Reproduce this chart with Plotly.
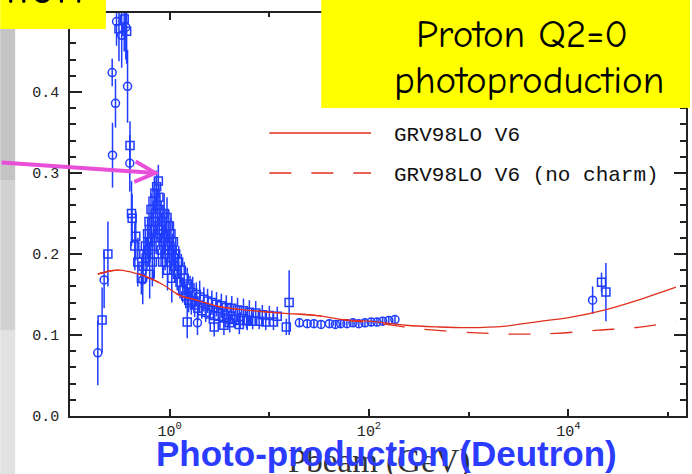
import plotly.graph_objects as go

# photon beam momentum (GeV) and cross section values
circ_p = [0.19, 0.22, 0.265, 0.267, 0.286, 0.293, 0.363, 0.378, 0.398, 0.537, 0.33,
          1.9, 20, 24, 28, 33, 40, 46, 52, 60, 69, 79, 91, 105, 120, 137, 158, 182,
          17500]
circ_v = [0.078, 0.168, 0.424, 0.322, 0.386, 0.487, 0.48, 0.407, 0.312, 0.168, 0.47,
          0.115, 0.115, 0.114, 0.114, 0.113, 0.114, 0.113, 0.114, 0.114, 0.115, 0.114,
          0.115, 0.116, 0.116, 0.117, 0.118, 0.119,
          0.143]
circ_e = [0.04, 0.035, 0.017, 0.04, 0.03, 0.03, 0.04, 0.045, 0.035, 0.03, 0.04,
          0.015, 0.005, 0.005, 0.005, 0.005, 0.005, 0.005, 0.005, 0.005, 0.005, 0.005,
          0.005, 0.005, 0.005, 0.005, 0.005, 0.005,
          0.017]

sq_p = [0.21, 0.24, 0.37, 0.40, 0.414, 0.42, 0.447, 0.457, 0.479, 0.35, 0.31,
        0.52, 0.54, 0.55, 0.57, 0.58, 0.60, 0.61, 0.62, 0.64, 0.65, 0.66, 0.68, 0.69,
        0.71, 0.72, 0.74, 0.75, 0.77, 0.78, 0.79, 0.80, 0.82, 0.84, 0.86, 0.88, 0.90,
        0.92, 0.94, 0.96, 0.98, 1.00, 1.03, 1.06, 1.09, 1.12, 1.15, 1.19, 1.23, 1.27,
        1.31, 0.63, 0.67, 0.70, 0.85, 0.95, 1.05, 0.73, 0.76, 0.83, 0.89, 1.0, 1.1,
        1.35, 1.4, 1.45, 1.5, 1.55, 1.6, 1.65, 1.7, 1.78, 1.85, 1.92, 2.0, 2.1, 2.2,
        2.3, 2.4, 2.5, 2.65, 2.8, 2.95, 3.1, 3.3, 3.5, 3.7, 3.9, 4.2, 4.5, 4.8, 5.1,
        5.5, 5.9, 6.3, 6.8, 7.3, 7.9, 8.5, 9.2, 10.0, 11, 12,
        1.5, 2.8, 3.5, 4.0, 5.0, 6.0, 14.8, 15.8,
        21500, 23800]
sq_v = [0.1185, 0.2, 0.475, 0.334, 0.25, 0.244, 0.21, 0.222, 0.19, 0.49, 0.478,
        0.17, 0.185, 0.2, 0.21, 0.195, 0.225, 0.205, 0.24, 0.215, 0.255, 0.23, 0.265, 0.24,
        0.275, 0.25, 0.283, 0.26, 0.29, 0.27, 0.225, 0.255, 0.205, 0.24, 0.215, 0.25, 0.2,
        0.235, 0.245, 0.21, 0.235, 0.195, 0.225, 0.205, 0.215, 0.185, 0.2, 0.175, 0.19, 0.165,
        0.18, 0.175, 0.19, 0.2, 0.19, 0.18, 0.17, 0.22, 0.235, 0.23, 0.22, 0.21, 0.195,
        0.155, 0.17, 0.148, 0.163, 0.143, 0.158, 0.14, 0.152, 0.137, 0.15, 0.133, 0.147, 0.13, 0.144,
        0.128, 0.142, 0.126, 0.14, 0.124, 0.138, 0.123, 0.136, 0.121, 0.134, 0.12, 0.133, 0.119, 0.131, 0.118,
        0.13, 0.118, 0.128, 0.117, 0.127, 0.117, 0.125, 0.116, 0.124, 0.116, 0.123,
        0.116, 0.11, 0.112, 0.115, 0.113, 0.118, 0.11, 0.14,
        0.165, 0.153]
sq_e = [0.04, 0.04, 0.04, 0.03, 0.04, 0.03, 0.03, 0.03, 0.03, 0.04, 0.04,
        0.02, 0.02, 0.02, 0.025, 0.02, 0.02, 0.02, 0.02, 0.02, 0.02, 0.02, 0.02, 0.02,
        0.02, 0.02, 0.02, 0.02, 0.02, 0.015, 0.02, 0.02, 0.02, 0.02, 0.02, 0.025, 0.02,
        0.02, 0.025, 0.02, 0.02, 0.02, 0.02, 0.02, 0.025, 0.02, 0.02, 0.02, 0.02, 0.02,
        0.02, 0.03, 0.03, 0.03, 0.02, 0.025, 0.03, 0.02, 0.02, 0.02, 0.02, 0.02, 0.02,
        0.015, 0.02, 0.015, 0.02, 0.015, 0.015, 0.015, 0.02, 0.015, 0.015, 0.015, 0.02, 0.01, 0.015,
        0.012, 0.015, 0.012, 0.015, 0.012, 0.015, 0.012, 0.015, 0.012, 0.015, 0.01, 0.015, 0.01, 0.015, 0.01,
        0.015, 0.01, 0.015, 0.01, 0.015, 0.01, 0.012, 0.01, 0.012, 0.01, 0.012,
        0.02, 0.012, 0.012, 0.012, 0.012, 0.012, 0.01, 0.04,
        0.012, 0.036]

# GRV98LO V6 model curves
grv_p = [0.19, 0.25, 0.32, 0.46, 0.58, 0.86, 1.26, 1.85, 3.16, 5.6, 13.5, 30, 59, 100,
         234, 468, 1000, 2340, 5000, 10700, 23400, 50000, 120000]
grv_v = [0.175, 0.179, 0.180, 0.176, 0.172, 0.162, 0.149, 0.143, 0.135, 0.131, 0.127,
         0.124, 0.1185, 0.117, 0.112, 0.110, 0.109, 0.111, 0.1165, 0.122, 0.131, 0.143, 0.159]
nocharm_p = [0.19, 0.25, 0.32, 0.46, 0.58, 0.86, 1.26, 1.85, 3.16, 5.6, 13.5, 30, 59,
             150, 295, 1070, 2950, 7400, 20000, 50000, 120000]
nocharm_v = [0.175, 0.179, 0.180, 0.176, 0.172, 0.162, 0.149, 0.143, 0.135, 0.131, 0.127,
             0.124, 0.1185, 0.113, 0.108, 0.103, 0.101, 0.102, 0.106, 0.1095, 0.1165]

legend_names = ["GRV98LO V6", "GRV98LO V6 (no charm)"]

W, H = 692, 474
L, R, T, B = 70, 4, 13, 58
BLUE = "#1f3cff"
RED = "#e0301e"
DASH = "22px,20px"


def pp(x, y):
    # page pixel -> paper coordinates
    return (x - L) / (W - L - R), (H - B - y) / (H - T - B)


def label(text, x, y, size, family, color="black", xanchor="center", yanchor="middle"):
    px_, py_ = pp(x, y)
    return dict(text=text, x=px_, y=py_, xref="paper", yref="paper", showarrow=False,
                xanchor=xanchor, yanchor=yanchor,
                font=dict(family=family, size=size, color=color))


fig = go.Figure()

for xs, ys, es, sym in [(circ_p, circ_v, circ_e, "circle-open"),
                        (sq_p, sq_v, sq_e, "square-open")]:
    fig.add_trace(go.Scatter(
        x=xs, y=ys, mode="markers",
        marker=dict(symbol=sym, size=8, color=BLUE, line=dict(width=1.5, color=BLUE)),
        error_y=dict(type="data", array=es, color=BLUE, thickness=1.5, width=0),
        showlegend=False,
    ))

fig.add_trace(go.Scatter(x=nocharm_p, y=nocharm_v, mode="lines", line_shape="spline",
                         line=dict(color=RED, width=1.3, dash=DASH), showlegend=False))
fig.add_trace(go.Scatter(x=grv_p, y=grv_v, mode="lines", line_shape="spline",
                         line=dict(color=RED, width=1.3), showlegend=False))

shapes = []
# hand-made legend lines
for i, dash in enumerate(["solid", DASH]):
    x0, y0 = pp(270, 133 + 40 * i)
    x1, _ = pp(372, 133)
    shapes.append(dict(type="line", xref="paper", yref="paper", x0=x0, x1=x1, y0=y0, y1=y0,
                       line=dict(color=RED, width=1.3, dash=dash)))

# slide decorations over the plot
for (a, b, c, d, col) in [(322, 0, 692, 108, "#ffff00"), (0, 0, 106, 29, "#ffff00"),
                          (0, 29, 15, 180, "#c4c4c4"), (0, 180, 15, 330, "#d2d2d2"),
                          (0, 330, 15, 474, "#e2e2e2")]:
    x0, y0 = pp(a, b)
    x1, y1 = pp(c, d)
    shapes.append(dict(type="rect", xref="paper", yref="paper", x0=x0, x1=x1, y0=y1, y1=y0,
                       fillcolor=col, line=dict(width=0), layer="above"))

ann = []
for i, name in enumerate(legend_names):
    ann.append(label(name, 393, 135 + 40 * i, 21, "Liberation Mono", "#111", xanchor="left"))

comic = "Comic Neue, Comic Sans MS, DejaVu Sans"
ann.append(label("Proton Q2=0", 523, 35, 39, comic))
ann.append(label("photoproduction", 530, 80, 39, comic))
ann.append(label("tion", 43, 18, 50, comic, yanchor="bottom"))

ann.append(label("Pbeam (GeV)", 380, 461, 33, "Liberation Serif", "#333"))
ann.append(label("<b>Photo-production (Deutron)</b>", 388, 453, 35, "Liberation Sans", "#2b3bff"))

# magenta pointer to the resonance peak
ann.append(dict(x=-0.1, y=0.2996, xref="x", yref="y", text="", showarrow=True,
                ax=-172, ay=-11, arrowhead=5, arrowsize=1, arrowwidth=4,
                arrowcolor="#e84fd8"))

fig.update_layout(
    width=W, height=H,
    margin=dict(l=L, r=R, t=T, b=B),
    paper_bgcolor="white", plot_bgcolor="white",
    shapes=shapes, annotations=ann,
    font=dict(family="Liberation Mono", size=15, color="#222"),
)
fig.update_xaxes(
    type="log", range=[-1, 5.18], showgrid=False, zeroline=False,
    showline=True, linecolor="#222", linewidth=1.5, mirror="ticks",
    ticks="inside", ticklen=7, tickwidth=1.5, tickcolor="#222",
    tickvals=[1, 100, 10000], ticktext=["10<sup>0</sup>", "10<sup>2</sup>", "10<sup>4</sup>"],
    minor=dict(tickvals=[0.1, 10, 1000, 100000], ticks="inside", ticklen=4,
               tickwidth=1.5, tickcolor="#222"),
)
fig.update_yaxes(
    range=[0, 0.4975], showgrid=False, zeroline=False,
    showline=True, linecolor="#222", linewidth=1.5, mirror="ticks",
    ticks="inside", ticklen=12, tickwidth=1.5, tickcolor="#222",
    tickvals=[0, 0.1, 0.2, 0.3, 0.4], tickformat=".1f", ticklabelstandoff=6,
    minor=dict(dtick=0.02, ticks="inside", ticklen=6, tickwidth=1.5, tickcolor="#222"),
)

# drop the default 8px body margin so the figure sits at the window corner
fig.write_html("out.html", config={"displayModeBar": False},
               post_script="document.body.style.margin = '0';")
